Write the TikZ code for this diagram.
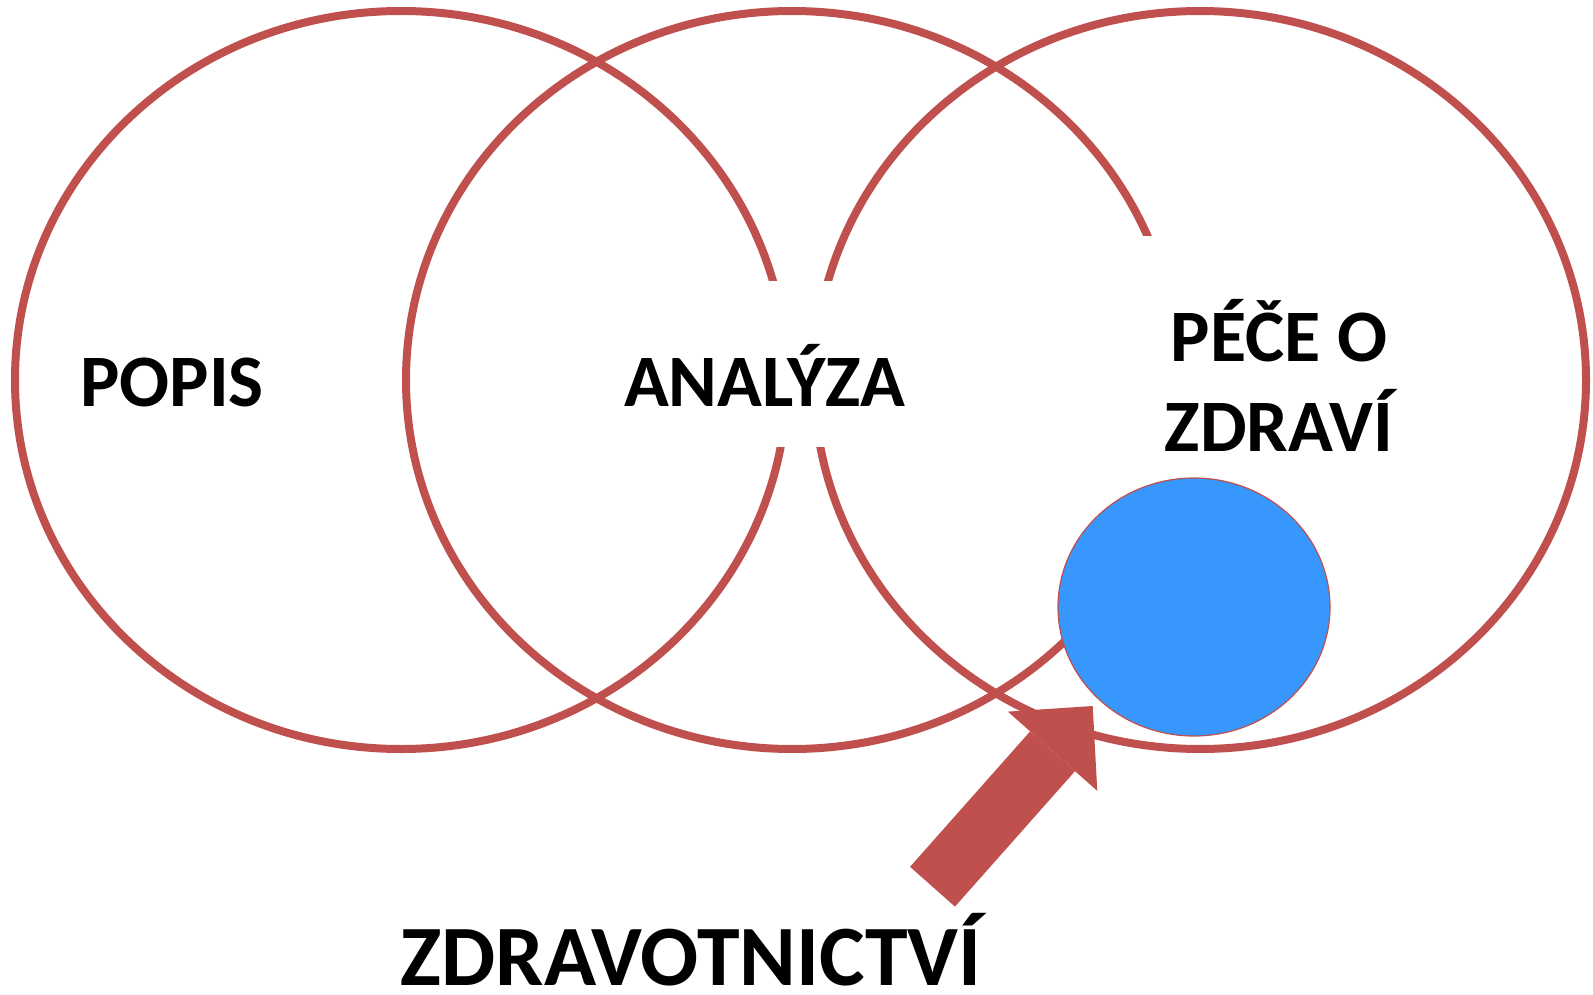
\documentclass[tikz,border=0pt]{standalone}
\usepackage{fontspec}
\setmainfont{Carlito}
\usepackage{tikz}
\usetikzlibrary{arrows.meta,shapes.geometric}
\definecolor{ringred}{RGB}{192,80,77}
\definecolor{dotblue}{RGB}{55,151,252}

\begin{document}
\begin{tikzpicture}[x=1pt,y=-1pt,line width=8pt,
		font=\fontsize{74}{90}\selectfont\bfseries]
		\tikzstyle{ring}=[draw=ringred]
		\tikzstyle{txt}=[inner sep=0pt,anchor=base]
		\tikzstyle{whitebox}=[txt,fill=white]

		\useasboundingbox (0,0) rectangle (1593,995);

		\draw[ring] (401,380) ellipse (386 and 369);
		\draw[ring] (792,380) ellipse (386 and 369);
		\draw[ring] (1200,380) ellipse (386 and 369);

		\node[txt] (popis) at (172,406.5) {POPIS};
		\node[whitebox,minimum width=330pt,text height=125.5pt,text depth=40.5pt] (analyza) at (764.5,406.5) {ANALÝZA};
		\node[whitebox,align=center,minimum width=300pt,text height=215pt,text depth=39pt] (pece) at (1279,451) {PÉČE O\\ZDRAVÍ};
		\node[txt,text depth=0pt,font=\fontsize{86}{100}\selectfont\bfseries] (obor) at (691,985) {ZDRAVOTNICTVÍ};

		\node[ellipse,draw=ringred,line width=1.2pt,fill=dotblue,minimum width=272pt,minimum height=258pt,inner sep=0pt] (dot) at (1194,607) {};

		\coordinate (tail) at (932.5,886.7);
		\coordinate (tip) at (1092.7,706);
		\draw[ringred,line width=60pt,-{Triangle[length=60.5pt,width=119.5pt,line width=0pt]}] (tail) -- (tip);
	\end{tikzpicture}
\end{document}
